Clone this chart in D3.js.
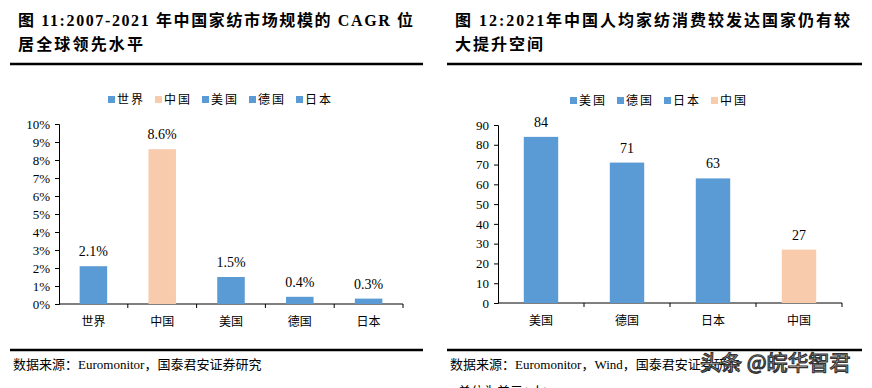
<!DOCTYPE html>
<html>
<head>
<meta charset="utf-8">
<script src="https://cdn.jsdelivr.net/npm/d3@7"></script>
<style>
  body { margin: 0; background: #fff; }
  svg text { fill: #000; }
  .title { font-family: "Liberation Serif", "Noto Sans CJK SC", serif; font-weight: bold; font-size: 16px; }
  .tick text { font-family: "Liberation Serif", serif; font-size: 13px; }
  .cat { font-family: "Noto Sans CJK SC", sans-serif; font-size: 12px; }
  .lbl { font-family: "Liberation Serif", serif; font-size: 14px; }
  .leg { font-family: "Noto Sans CJK SC", sans-serif; font-size: 12px; letter-spacing: 2px; }
  .src { font-family: "Liberation Serif", "Noto Sans CJK SC", serif; font-size: 13px; }
</style>
</head>
<body>
<svg id="chart" width="872" height="388"></svg>
<script>
const BLUE = '#5B9BD5', PEACH = '#F8CBAD';

// chart 1: CAGR 2007-2021
const cagrCats = ['世界', '中国', '美国', '德国', '日本'];
const cagrVals = [0.021, 0.086, 0.015, 0.004, 0.003];
const cagrLabels = ['2.1%', '8.6%', '1.5%', '0.4%', '0.3%'];
const cagrTicks = [0, 0.01, 0.02, 0.03, 0.04, 0.05, 0.06, 0.07, 0.08, 0.09, 0.10];

// chart 2: per capita spending (USD)
const spendCats = ['美国', '德国', '日本', '中国'];
const spendVals = [84, 71, 63, 27];
const spendTicks = [0, 10, 20, 30, 40, 50, 60, 70, 80, 90];

const svg = d3.select('#chart');

function header(x0, x1, lines) {
  lines.forEach((t, i) => {
    svg.append('text').attr('class', 'title')
      .attr('x', x0 + 8).attr('y', 26 + i * 24)
      .attr('textLength', t.len).attr('lengthAdjust', 'spacing')
      .text(t.s);
  });
  svg.append('line').attr('x1', x0).attr('x2', x1).attr('y1', 64).attr('y2', 64)
    .attr('stroke', '#000').attr('stroke-width', 2.5);
}

function footer(x0, x1, txt) {
  svg.append('line').attr('x1', x0).attr('x2', x1).attr('y1', 350).attr('y2', 350)
    .attr('stroke', '#000').attr('stroke-width', 2.5);
  svg.append('text').attr('class', 'src').attr('x', x0 + 3).attr('y', 369).text(txt);
}

function barChart(opt) {
  const g = svg.append('g');
  const x = d3.scaleBand().domain(opt.cats).range([opt.left, opt.right])
    .paddingInner(0.6).paddingOuter(0.3);
  const y = d3.scaleLinear().domain([0, opt.max]).range([opt.bottom, opt.top]);

  const ya = g.append('g').attr('transform', `translate(${opt.left},0)`)
    .call(d3.axisLeft(y).tickValues(opt.ticks).tickSize(4).tickPadding(5).tickFormat(opt.fmt));
  ya.select('.domain').attr('stroke', '#000');
  ya.selectAll('.tick line').attr('stroke', '#000');

  g.append('line').attr('x1', opt.left).attr('x2', opt.right)
    .attr('y1', opt.bottom).attr('y2', opt.bottom).attr('stroke', '#000');
  const half = x.step() * 0.3;
  g.selectAll('.bt').data(opt.cats).enter().append('line')
    .attr('x1', d => x(d) + x.bandwidth() + half).attr('x2', d => x(d) + x.bandwidth() + half)
    .attr('y1', opt.bottom).attr('y2', opt.bottom + 4).attr('stroke', '#000');

  g.selectAll('rect').data(opt.cats).enter().append('rect')
    .attr('x', d => x(d)).attr('width', x.bandwidth())
    .attr('y', (d, i) => y(opt.vals[i]))
    .attr('height', (d, i) => opt.bottom - y(opt.vals[i]))
    .attr('fill', d => d === '中国' ? PEACH : BLUE);

  g.selectAll('.lbl').data(opt.cats).enter().append('text').attr('class', 'lbl')
    .attr('x', d => x(d) + x.bandwidth() / 2)
    .attr('y', (d, i) => y(opt.vals[i]) - 10)
    .attr('text-anchor', 'middle')
    .text((d, i) => opt.labels[i]);

  g.selectAll('.cat').data(opt.cats).enter().append('text').attr('class', 'cat')
    .attr('x', d => x(d) + x.bandwidth() / 2).attr('y', opt.bottom + 22)
    .attr('text-anchor', 'middle').text(d => d);

  // legend
  let lx = opt.legX;
  opt.cats.forEach(c => {
    g.append('rect').attr('x', lx).attr('y', opt.legY - 8).attr('width', 7).attr('height', 7)
      .attr('fill', c === '中国' ? PEACH : BLUE);
    g.append('text').attr('class', 'leg').attr('x', lx + 9).attr('y', opt.legY).text(c);
    lx += opt.legStep;
  });
}

header(10, 423, [
  { s: '图 11:2007-2021 年中国家纺市场规模的 CAGR 位', len: 395 },
  { s: '居全球领先水平', len: 125 }
]);
header(447, 862, [
  { s: '图 12:2021年中国人均家纺消费较发达国家仍有较', len: 395 },
  { s: '大提升空间', len: 88 }
]);

barChart({
  cats: cagrCats, vals: cagrVals, labels: cagrLabels, ticks: cagrTicks, max: 0.10,
  fmt: d3.format('.0%'), left: 59, right: 403, top: 124, bottom: 304,
  legX: 108, legY: 104, legStep: 47
});
barChart({
  cats: spendCats, vals: spendVals, labels: spendVals.map(String), ticks: spendTicks, max: 90,
  fmt: d3.format('d'), left: 498, right: 842, top: 125, bottom: 303,
  legX: 570, legY: 105, legStep: 47
});

footer(10, 423, '数据来源：Euromonitor，国泰君安证券研究');
footer(447, 862, '数据来源：Euromonitor，Wind，国泰君安证券研究');
svg.append('text').attr('class', 'src').attr('x', 458).attr('y', 396).text('单位为美元(/人)');

svg.append('text').attr('x', 700).attr('y', 370)
  .attr('font-family', 'Noto Sans CJK SC, sans-serif').attr('font-size', 21)
  .attr('fill', '#fff').attr('stroke', '#333').attr('stroke-width', 1.2)
  .style('fill', '#fff').text('头条 @皖华智君');
</script>
</body>
</html>
